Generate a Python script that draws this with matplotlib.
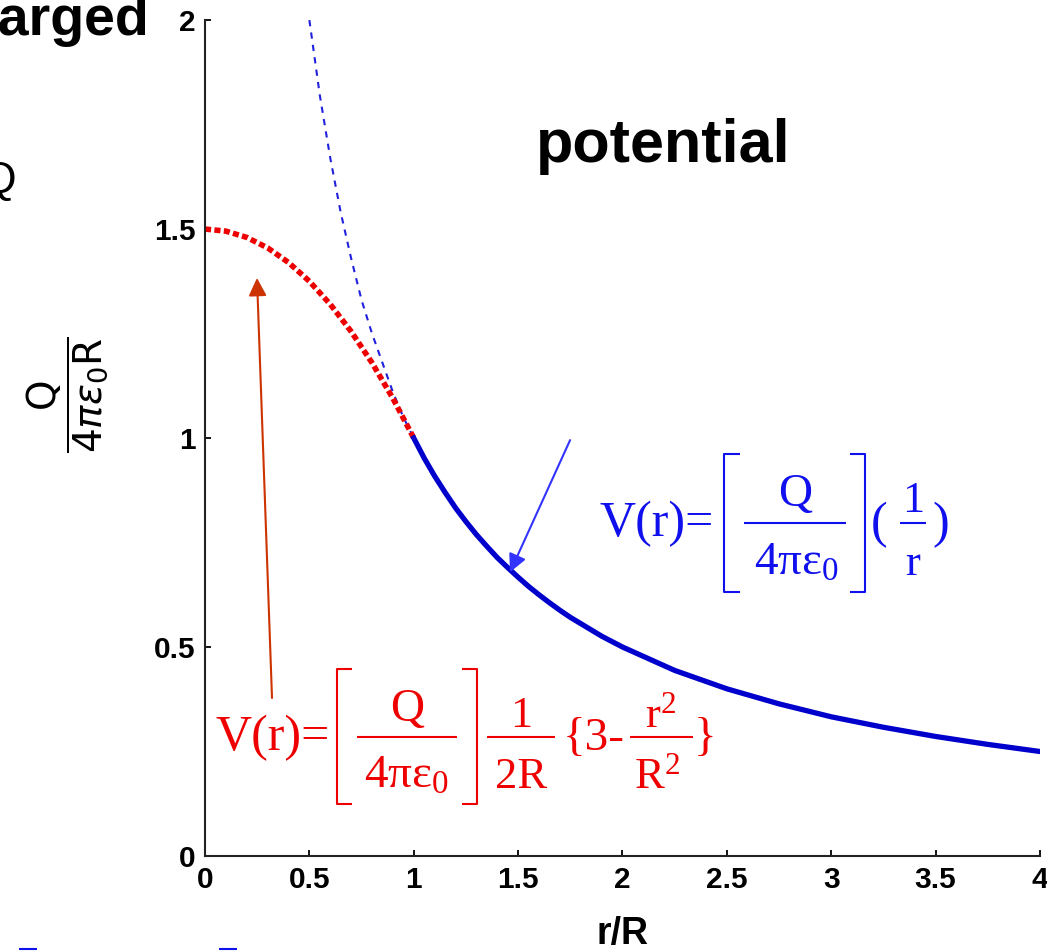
import numpy as np
import matplotlib.pyplot as plt
from matplotlib.lines import Line2D

# values
r_in = [0.0, 0.1, 0.2, 0.3, 0.4, 0.5, 0.6, 0.7, 0.8, 0.9, 1.0]
v_in = [1.5, 1.495, 1.48, 1.455, 1.42, 1.375, 1.32, 1.255, 1.18, 1.095, 1.0]

r_ext = [0.5, 0.55, 0.6, 0.65, 0.7, 0.75, 0.8, 0.85, 0.9, 0.95, 1.0]
v_ext = [2.0, 1.82, 1.67, 1.54, 1.43, 1.33, 1.25, 1.18, 1.11, 1.05, 1.0]

r_out = [1.0, 1.05, 1.1, 1.15, 1.2, 1.25, 1.3, 1.35, 1.4, 1.45, 1.5,
         1.55, 1.6, 1.65, 1.7, 1.75, 1.8, 1.85, 1.9, 1.95, 2.0,
         2.25, 2.5, 2.75, 3.0, 3.25, 3.5, 3.75, 4.0]
v_out = [1.0, 0.952, 0.909, 0.87, 0.833, 0.8, 0.769, 0.741, 0.714, 0.69, 0.667,
         0.645, 0.625, 0.606, 0.588, 0.571, 0.556, 0.541, 0.526, 0.513, 0.5,
         0.444, 0.4, 0.364, 0.333, 0.308, 0.286, 0.267, 0.25]

xticks = [0, 0.5, 1, 1.5, 2, 2.5, 3, 3.5, 4]
xticklabels = ['0', '0.5', '1', '1.5', '2', '2.5', '3', '3.5', '4']
yticks = [0, 0.5, 1, 1.5, 2]
yticklabels = ['0', '0.5', '1', '1.5', '2']

BLUE_EQ = '#1010ee'
RED_EQ = '#ee0000'

plt.rcParams['font.family'] = 'Liberation Sans'
plt.rcParams['mathtext.fontset'] = 'custom'
plt.rcParams['mathtext.rm'] = 'Liberation Serif'
plt.rcParams['mathtext.it'] = 'Liberation Serif'
plt.rcParams['mathtext.bf'] = 'Liberation Serif:bold'

W, H = 1047, 951
fig = plt.figure(figsize=(W / 100, H / 100), dpi=100)
ax = fig.add_axes([0.1958, 0.0999, 0.7975, 0.879])


def fx(x):
    return x / W


def fy(y):
    return 1 - y / H


def put(x, y, s, size, color, ha='center'):
    fig.text(fx(x), fy(y), s, fontsize=size, color=color, ha=ha, va='baseline',
             family='Liberation Serif', math_fontfamily='custom')


def rule(xs, ys, color, lw=1.5):
    fig.add_artist(Line2D([fx(x) for x in xs], [fy(y) for y in ys], color=color,
                          lw=lw, solid_capstyle='butt'))


def bracket(x, top, bot, serif, color):
    rule([x + serif, x, x, x + serif], [top, top, bot, bot], color)


ax.plot(r_ext, v_ext, color='#2020dd', lw=1.5, dashes=(3, 3))
ax.plot(r_in, v_in, color='#ee0000', lw=4.0, dashes=(1.1, 0.6),
        dash_capstyle='butt')
ax.plot(r_out, v_out, color='#0000cc', lw=3.8)

ax.set_xlim(0, 4)
ax.set_ylim(0, 2)
ax.set_xticks(xticks)
ax.set_xticklabels(xticklabels)
ax.set_yticks(yticks)
ax.set_yticklabels(yticklabels)
ax.tick_params(direction='in', length=4.5, width=1.3, labelsize=21.5, pad=7)
for lab in ax.get_xticklabels() + ax.get_yticklabels():
    lab.set_fontweight('bold')
ax.spines['top'].set_visible(False)
ax.spines['right'].set_visible(False)
for s in ['left', 'bottom']:
    ax.spines[s].set_linewidth(1.5)
    ax.spines[s].set_color('#222222')

ax.set_xlabel('r/R', fontsize=27, fontweight='bold', labelpad=16)

# arrows pointing to the curves
ax.annotate('', xy=(1.461, 0.679), xytext=(1.749, 0.995),
            arrowprops=dict(arrowstyle='-|>', color='#3333ff', lw=1.5,
                            mutation_scale=27, shrinkA=0, shrinkB=0))
ax.annotate('', xy=(0.249, 1.383), xytext=(0.321, 0.378),
            arrowprops=dict(arrowstyle='-|>', color='#cc3300', lw=1.5,
                            mutation_scale=27, shrinkA=0, shrinkB=0))

# outside: V(r) = [Q / 4 pi eps0] (1 / r)
put(600, 536, 'V(r)=', 36, BLUE_EQ, ha='left')
bracket(724, 454, 592, 16, BLUE_EQ)
put(795, 506, 'Q', 34, BLUE_EQ)
rule([744, 846], [523, 523], BLUE_EQ)
put(796, 575, r'$4\pi\varepsilon_0$', 34, BLUE_EQ)
bracket(865, 454, 592, -15, BLUE_EQ)
put(871, 537, '(', 36, BLUE_EQ, ha='left')
put(913, 512, '1', 32, BLUE_EQ)
rule([900, 926], [523, 523], BLUE_EQ)
put(913, 575, 'r', 32, BLUE_EQ)
put(932, 537, ')', 36, BLUE_EQ, ha='left')

# inside: V(r) = [Q / 4 pi eps0] 1/2R {3 - r^2/R^2}
put(216, 750, 'V(r)=', 36, RED_EQ, ha='left')
bracket(337, 669, 804, 15, RED_EQ)
put(407, 721, 'Q', 34, RED_EQ)
rule([357, 457], [737, 737], RED_EQ)
put(406, 788, r'$4\pi\varepsilon_0$', 34, RED_EQ)
bracket(477, 669, 804, -15, RED_EQ)
put(521, 727, '1', 32, RED_EQ)
rule([487, 555], [737, 737], RED_EQ)
put(521, 788, '2R', 32, RED_EQ)
put(563, 750, '{3-', 34, RED_EQ, ha='left')
put(661, 727, r'$\mathrm{r}^2$', 32, RED_EQ)
rule([630, 693], [737, 737], RED_EQ)
put(657, 788, r'$\mathrm{R}^2$', 32, RED_EQ)
put(694, 750, '}', 34, RED_EQ, ha='left')

ax.text(2.194, 1.660, 'potential', fontsize=44, fontweight='bold', ha='center',
        va='baseline')

# text cut off by the slide edges
fig.text(0.1433, 0.963, 'charged', fontsize=40, fontweight='bold', ha='right',
         va='baseline')
fig.text(16 / W, (H - 193) / H, 'Q', fontsize=32, ha='right', va='baseline')
fig.text(0.064, 0.585, r'$\dfrac{\mathrm{Q}}{\mathrm{4}\pi\varepsilon_0\mathrm{R}}$',
         fontsize=28, rotation=90, ha='center', va='center',
         math_fontfamily='dejavusans')
rule([19, 37], [949, 949], BLUE_EQ)
rule([219, 237], [949, 949], BLUE_EQ)

fig.savefig('out.png', dpi=100)
